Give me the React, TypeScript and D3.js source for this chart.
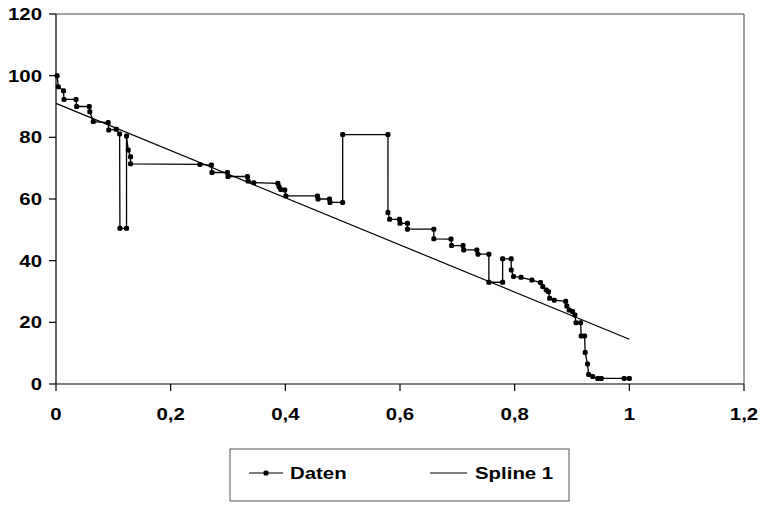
import React from "react";
import * as d3 from "d3";

const xTicks = [0, 0.2, 0.4, 0.6, 0.8, 1, 1.2];
const yTicks = [0, 20, 40, 60, 80, 100, 120];

const datenX = [
  0.002, 0.004, 0.013, 0.014, 0.035, 0.036, 0.058, 0.059, 0.065, 0.091, 0.092, 0.105, 0.111, 0.1115, 0.123,
  0.123, 0.126, 0.13, 0.13, 0.251, 0.271, 0.272, 0.299, 0.3, 0.334, 0.335, 0.345, 0.387, 0.389, 0.392,
  0.399, 0.401, 0.456, 0.457, 0.477, 0.478, 0.5, 0.5, 0.579, 0.579, 0.582, 0.599, 0.6, 0.613, 0.613,
  0.659, 0.659, 0.689, 0.69, 0.71, 0.711, 0.734, 0.736, 0.755, 0.755, 0.779, 0.779, 0.794, 0.794, 0.798,
  0.811, 0.83, 0.845, 0.849, 0.855, 0.859, 0.861, 0.869, 0.889, 0.891, 0.895, 0.901, 0.905, 0.907, 0.915,
  0.916, 0.922, 0.923, 0.927, 0.929, 0.936, 0.945, 0.951, 0.991, 1.0,
];
const datenY = [
  100, 96.4, 95.1, 92.3, 92.3, 90, 90, 88.3, 85.1, 84.8, 82.4, 82.6, 81.1, 50.5, 50.5,
  80.4, 75.9, 73.7, 71.4, 71.2, 71, 68.6, 68.6, 67.3, 67.3, 65.8, 65.3, 65.1, 64, 63.1,
  62.9, 61, 61, 60, 60, 58.9, 58.9, 80.9, 80.9, 55.6, 53.4, 53.4, 52.1, 52.1, 50.2,
  50.2, 47.1, 47.0, 44.9, 44.9, 43.5, 43.5, 42.1, 42.1, 33.0, 33.0, 40.6, 40.6, 37.0, 34.9,
  34.6, 33.7, 32.9, 31.6, 30.5, 29.9, 27.8, 27.2, 26.8, 25.3, 24, 23.5, 22.4, 19.9, 19.9,
  15.6, 15.6, 10.2, 6.5, 3.1, 2.4, 1.8, 1.8, 1.8, 1.8,
];

const splineX = [0, 1];
const splineY = [91, 14.5];

const legendLabels = ["Daten", "Spline 1"];

const W = 762;
const H = 505;

export default function App() {
  const x = d3.scaleLinear().domain([0, 1.2]).range([56, 744]);
  const y = d3.scaleLinear().domain([0, 120]).range([384, 14]);

  const daten = datenX.map((v, i) => [v, datenY[i]] as [number, number]);
  const spline = splineX.map((v, i) => [v, splineY[i]] as [number, number]);

  const line = d3
    .line<[number, number]>()
    .x((d) => x(d[0]))
    .y((d) => y(d[1]));

  const font = "'Liberation Sans', Arial, Helvetica, sans-serif";
  const fs = 17;
  const sx = 1.2;
  const ms = 5;

  const x0 = x(0);
  const x1 = x(1.2);
  const y0 = y(0);
  const y1 = y(120);

  return (
    <svg
      width={W}
      height={H}
      style={{ position: "absolute", left: 0, top: 0, background: "#fff" }}
      fontFamily={font}
      fontWeight="bold"
    >
      <rect x={0} y={0} width={W} height={H} fill="#fff" />
      {/* frame */}
      <line x1={x0} x2={x1} y1={y1} y2={y1} stroke="#444" strokeWidth={1} />
      <line x1={x1} x2={x1} y1={y1} y2={y0} stroke="#444" strokeWidth={1} />
      {/* axes */}
      <line x1={x0} x2={x0} y1={y1} y2={y0} stroke="#000" strokeWidth={1.2} />
      <line x1={x0} x2={x1} y1={y0} y2={y0} stroke="#000" strokeWidth={1.2} />
      {yTicks.map((t) => (
        <g key={"y" + t}>
          <line x1={x0 - 7} x2={x0} y1={y(t)} y2={y(t)} stroke="#000" strokeWidth={1.2} />
          <text
            transform={`translate(42,${y(t) + 6}) scale(${sx},1)`}
            textAnchor="end"
            fontSize={fs}
            fill="#000"
          >
            {String(t)}
          </text>
        </g>
      ))}
      {xTicks.map((t) => (
        <g key={"x" + t}>
          <line x1={x(t)} x2={x(t)} y1={y0} y2={y0 + 7} stroke="#000" strokeWidth={1.2} />
          <text
            transform={`translate(${x(t)},420) scale(${sx},1)`}
            textAnchor="middle"
            fontSize={fs}
            fill="#000"
          >
            {String(t).replace(".", ",")}
          </text>
        </g>
      ))}
      {/* spline */}
      <path d={line(spline) || ""} fill="none" stroke="#000" strokeWidth={1.2} />
      {/* data */}
      <path d={line(daten) || ""} fill="none" stroke="#000" strokeWidth={1.3} />
      {daten.map((d, i) => (
        <rect
          key={"m" + i}
          x={x(d[0]) - ms / 2}
          y={y(d[1]) - ms / 2}
          width={ms}
          height={ms}
          rx={1.6}
          fill="#000"
        />
      ))}
      {/* legend */}
      <rect x={230} y={449} width={339} height={52} fill="none" stroke="#555" strokeWidth={1} />
      <line x1={249} x2={283} y1={473} y2={473} stroke="#000" strokeWidth={1.2} />
      <rect x={266 - ms / 2} y={473 - ms / 2} width={ms} height={ms} rx={1.6} fill="#000" />
      <text transform={`translate(290,479) scale(${sx},1)`} fontSize={fs} fill="#000">
        {legendLabels[0]}
      </text>
      <line x1={430} x2={467} y1={473} y2={473} stroke="#000" strokeWidth={1} />
      <text transform={`translate(475,479) scale(${sx},1)`} fontSize={fs} fill="#000">
        {legendLabels[1]}
      </text>
    </svg>
  );
}
